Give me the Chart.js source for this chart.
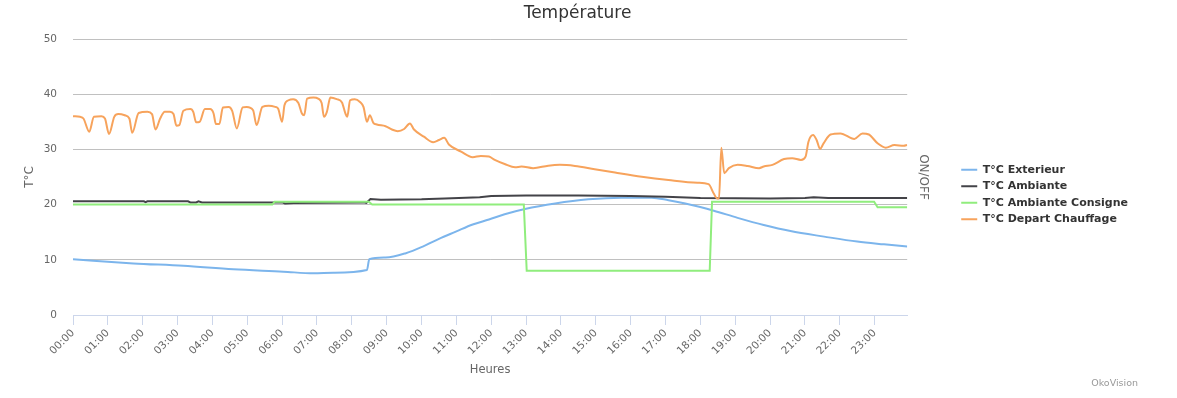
<!DOCTYPE html>
<html>
<head>
<meta charset="utf-8">
<script src="https://cdn.jsdelivr.net/npm/chart.js@4.4.1/dist/chart.umd.min.js"></script>
<style>
html,body{margin:0;padding:0;background:#fff;}
#wrap{width:1177px;height:398px;position:relative;}
</style>
</head>
<body>
<div id="wrap"><canvas id="c"></canvas></div>
<script>
// ---- Data ----
const hourLabels = ['00:00','01:00','02:00','03:00','04:00','05:00','06:00','07:00','08:00','09:00','10:00','11:00',
  '12:00','13:00','14:00','15:00','16:00','17:00','18:00','19:00','20:00','21:00','22:00','23:00'];
const yTicks = [0, 10, 20, 30, 40, 50];
const seriesNames = ['T°C Exterieur', 'T°C Ambiante', 'T°C Ambiante Consigne', 'T°C Depart Chauffage'];

const extTimes = ['00:00','01:44','03:10','04:36','06:02','06:54','07:28','08:26','08:30','08:58','09:33','10:02','10:30',
  '10:59','11:28','11:56','12:23','12:58','13:50','14:47','15:44','16:36','17:05','17:34','17:58','18:23','19:04',
  '19:49','20:35','21:33','22:30','23:16','23:56'];
const extValues = [10.1,9.35,8.9,8.27,7.85,7.55,7.67,8.15,10.1,10.4,11.2,12.4,13.8,
  15.1,16.4,17.3,18.25,19.2,20.2,20.95,21.25,21.25,20.8,20.2,19.6,18.9,17.6,
  16.3,15.2,14.2,13.3,12.8,12.4];

const ambTimes = ['00:00','02:02','02:05','02:08','03:18','03:22','03:32','03:36','03:42','06:00','06:05','06:20','08:20',
  '08:25','08:32','08:50','10:00','10:40','11:40','12:00','13:00','14:30','16:00','17:00','18:00','20:00','21:00',
  '21:15','21:40','23:56'];
const ambValues = [20.6,20.6,20.45,20.6,20.6,20.4,20.4,20.6,20.4,20.4,20.2,20.3,20.4,
  20.3,21.0,20.9,20.95,21.1,21.35,21.55,21.65,21.65,21.55,21.4,21.2,21.1,21.2,
  21.35,21.2,21.2];

const consTimes = ['00:00','05:43','05:47','08:29','08:35','12:56','13:01','18:16','18:20','22:59','23:05','23:56'];
const consValues = [20,20,20.5,20.5,20,20,8,8,20.5,20.5,19.5,19.5];

const depTimes = ['00:00','00:12','00:18','00:28','00:36','00:49','00:55','01:02','01:11','01:18','01:29','01:37','01:42',
  '01:53','02:08','02:16','02:22','02:30','02:38','02:47','02:53','02:58','03:03','03:10','03:22','03:27','03:32',
  '03:38','03:47','03:56','04:02','04:06','04:12','04:18','04:28','04:34','04:42','04:52','04:59','05:10','05:16',
  '05:26','05:37','05:48','05:53','06:00','06:04','06:11','06:19','06:28','06:34','06:38','06:43','06:54','07:02',
  '07:08','07:12','07:17','07:23','07:34','07:43','07:49','07:52','07:57','08:05','08:14','08:20','08:26','08:31',
  '08:37','08:43','08:58','09:09','09:19','09:30','09:40','09:47','10:04','10:20','10:30','10:39','10:47','11:08',
  '11:28','11:42','11:56','12:06','12:23','12:41','12:52','13:12','13:38','13:58','14:24','14:58','15:33','16:19',
  '17:05','17:55','18:14','18:23','18:29','18:32','18:36','18:41','18:49','19:04','19:21','19:41','19:49','20:04',
  '20:24','20:38','20:53','21:01','21:06','21:14','21:20','21:26','21:32','21:44','22:01','22:25','22:39','22:50',
  '23:05','23:19','23:34','23:50','23:56'];
const depValues = [36.0,35.9,35.6,33.2,35.9,36.0,35.6,32.8,35.9,36.4,36.2,35.6,33.0,
  36.6,36.8,36.4,33.6,35.6,36.8,36.8,36.4,34.3,34.4,37.0,37.3,36.8,34.9,
  35.0,37.3,37.3,36.5,34.6,34.6,37.6,37.7,37.0,33.8,37.6,37.7,37.1,34.4,
  37.7,37.9,37.7,37.4,35.0,38.0,38.9,39.1,38.4,36.5,36.2,39.2,39.4,39.2,
  38.4,35.9,36.8,39.4,39.1,38.5,36.5,35.9,38.9,39.1,38.6,37.7,35.0,36.2,
  34.8,34.5,34.2,33.6,33.3,33.7,34.7,33.6,32.3,31.3,31.7,32.1,30.9,29.6,
  28.6,28.8,28.7,28.1,27.35,26.75,26.9,26.6,27.05,27.2,27.0,26.4,25.8,25.05,
  24.45,23.95,23.7,22.0,21.1,21.1,30.3,25.7,26.6,27.2,27.0,26.6,26.9,27.2,
  28.25,28.4,28.1,28.7,31.4,32.6,31.7,30.1,31.1,32.7,32.9,31.9,32.9,32.7,
  31.1,30.3,30.8,30.65,30.8];

// ---- helpers ----
function toMin(s){ const p = s.split(':'); return (+p[0]) * 60 + (+p[1]); }
function pts(times, vals){ return times.map((t, i) => ({ x: toMin(t), y: vals[i] })); }

const FONT = 'DejaVu Sans';

const creditPlugin = {
  id: 'credit',
  afterDraw(chart) {
    const ctx = chart.ctx;
    ctx.save();
    ctx.font = '9.5px "' + FONT + '"';
    ctx.fillStyle = '#999999';
    ctx.textAlign = 'right';
    ctx.textBaseline = 'middle';
    ctx.fillText('OkoVision', 1138, 383.5);
    ctx.restore();
  }
};

const bgPlugin = {
  id: 'bg',
  beforeDraw(chart) {
    const ctx = chart.ctx;
    ctx.save();
    ctx.fillStyle = '#ffffff';
    ctx.fillRect(0, 0, chart.width, chart.height);
    ctx.restore();
  }
};

new Chart(document.getElementById('c'), {
  type: 'line',
  data: {
    datasets: [
      { label: seriesNames[0], data: pts(extTimes, extValues), borderColor: '#7cb5ec', backgroundColor: '#7cb5ec',
        borderWidth: 2, pointRadius: 0, cubicInterpolationMode: 'monotone', order: 3 },
      { label: seriesNames[1], data: pts(ambTimes, ambValues), borderColor: '#434348', backgroundColor: '#434348',
        borderWidth: 2, pointRadius: 0, tension: 0, order: 2 },
      { label: seriesNames[2], data: pts(consTimes, consValues), borderColor: '#90ed7d', backgroundColor: '#90ed7d',
        borderWidth: 2, pointRadius: 0, tension: 0, order: 1 },
      { label: seriesNames[3], data: pts(depTimes, depValues), borderColor: '#f7a35c', backgroundColor: '#f7a35c',
        borderWidth: 2, pointRadius: 0, cubicInterpolationMode: 'monotone', order: 0 }
    ]
  },
  options: {
    responsive: true,
    maintainAspectRatio: false,
    animation: false,
    layout: { padding: { left: 17, right: 39, top: 0, bottom: 9 } },
    plugins: {
      title: {
        display: true,
        text: 'Température',
        color: '#333333',
        font: { family: FONT, size: 17, weight: 'normal' },
        padding: { top: 3.3, bottom: 15.3 }
      },
      legend: {
        position: 'right',
        align: 'center',
        labels: {
          usePointStyle: true,
          pointStyle: 'line',
          pointStyleWidth: 16,
          padding: 5.5,
          color: '#333333',
          font: { family: FONT, size: 11, weight: 'bold' },
          sort: (a, b) => a.datasetIndex - b.datasetIndex
        }
      },
      tooltip: { enabled: false }
    },
    scales: {
      x: {
        type: 'linear',
        min: 0,
        max: 1436,
        afterFit(s) { s.height = 74; },
        border: { display: true, color: '#ccd6eb', width: 1 },
        grid: { display: true, drawOnChartArea: false, drawTicks: true, tickLength: 10, color: '#ccd6eb' },
        ticks: {
          stepSize: 60,
          includeBounds: false,
          autoSkip: false,
          minRotation: 45,
          maxRotation: 45,
          padding: 2,
          color: '#666666',
          font: { family: FONT, size: 10.5 },
          callback: (v) => hourLabels[Math.round(v / 60)]
        },
        title: {
          display: true,
          text: 'Heures',
          color: '#666666',
          font: { family: FONT, size: 11.5 },
          padding: { top: 0, bottom: 12.5 }
        }
      },
      y: {
        type: 'linear',
        position: 'left',
        min: 0,
        max: 50,
        afterFit(s) { s.width = 56; },
        afterBuildTicks(s) { s.ticks = yTicks.map(v => ({ value: v })); },
        border: { display: false },
        grid: {
          drawTicks: false,
          color: (c) => (c.tick && c.tick.value === 0) ? 'rgba(0,0,0,0)' : '#c0c0c0'
        },
        ticks: { padding: 16, color: '#666666', font: { family: FONT, size: 10.5 } },
        title: {
          display: true,
          text: 'T°C',
          color: '#666666',
          font: { family: FONT, size: 12 },
          padding: { top: 5.8, bottom: 0 }
        }
      },
      y2: {
        type: 'linear',
        position: 'right',
        min: 0,
        max: 1,
        afterFit(s) { s.width = 48.5; },
        border: { display: false },
        grid: { display: false },
        ticks: { display: false },
        title: {
          display: true,
          text: 'ON/OFF',
          color: '#666666',
          font: { family: FONT, size: 12 },
          padding: { top: 25.8, bottom: 0 }
        }
      }
    }
  },
  plugins: [bgPlugin, creditPlugin]
});
</script>
</body>
</html>
